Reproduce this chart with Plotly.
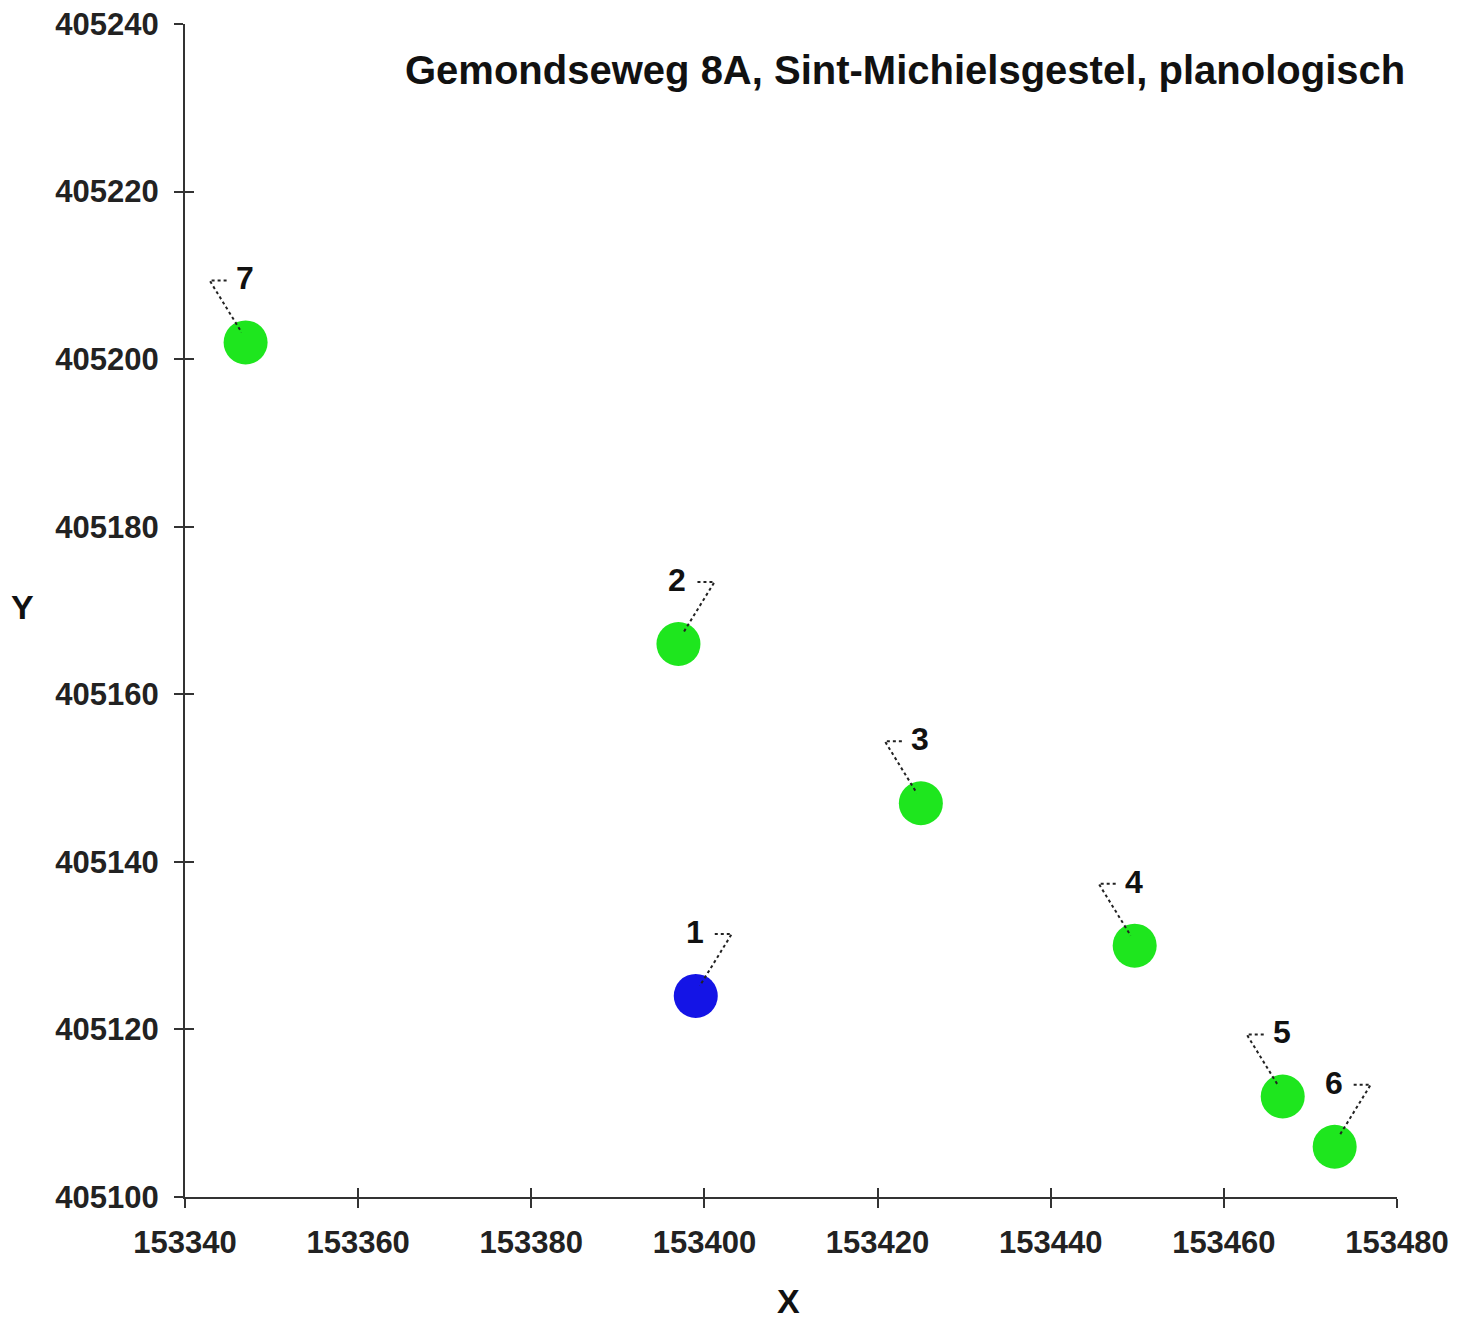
import plotly.graph_objects as go

labels = ["1", "2", "3", "4", "5", "6", "7"]
xs = [153399, 153397, 153425, 153449.7, 153466.8, 153472.8, 153347]
ys = [405124, 405166, 405147, 405130, 405112, 405106, 405202]
colors = ["#1414e6", "#1ee61e", "#1ee61e", "#1ee61e", "#1ee61e", "#1ee61e", "#1ee61e"]
# leader side: +1 = horizontal stub to right of label, -1 = to left
sides = [1, 1, -1, -1, -1, 1, -1]

title = "Gemondseweg 8A, Sint-Michielsgestel, planologisch"
x_ticks = [153340, 153360, 153380, 153400, 153420, 153440, 153460, 153480]
y_ticks = [405100, 405120, 405140, 405160, 405180, 405200, 405220, 405240]

FONT = "Liberation Sans, Arial, sans-serif"
AX = "#333333"

fig = go.Figure()
fig.add_trace(go.Scatter(
    x=xs, y=ys, mode="markers",
    marker=dict(size=44, color=colors, line=dict(width=0)),
    hoverinfo="skip", showlegend=False,
))
# invisible trace for overlay axes (inward ticks)
fig.add_trace(go.Scatter(x=[x_ticks[0]], y=[y_ticks[0]], xaxis="x2", yaxis="y2",
                         mode="markers", marker=dict(opacity=0), showlegend=False, hoverinfo="skip"))

shapes = []
annotations = []
for lab, x, y, s in zip(labels, xs, ys, sides):
    annotations.append(dict(x=x, y=y, xref="x", yref="y", text="<b>%s</b>" % lab,
                            showarrow=False, yshift=64, xshift=-1,
                            font=dict(family=FONT, size=32, color="#111111")))
    path = "M %d,%d L %d,%d L %d,%d" % (s * 19, 62, s * 36, 62, s * 4, 10)
    shapes.append(dict(type="path", xref="x", yref="y", xsizemode="pixel", ysizemode="pixel",
                       xanchor=x, yanchor=y, path=path,
                       line=dict(color="#222222", width=2, dash="dot"), layer="above"))

annotations.append(dict(x=1.0, y=0.9608, xref="paper", yref="paper", xanchor="right",
                        yanchor="middle", text="<b>%s</b>" % title, showarrow=False,
                        xshift=10,
                        font=dict(family=FONT, size=40, color="#111111")))
annotations.append(dict(x=0, y=0.5, xref="paper", yref="paper", xanchor="center",
                        yanchor="middle", text="<b>Y</b>", showarrow=False, xshift=-163, yshift=4,
                        font=dict(family=FONT, size=34, color="#111111")))
annotations.append(dict(x=0.5, y=0, xref="paper", yref="paper", xanchor="center",
                        yanchor="middle", text="<b>X</b>", showarrow=False, xshift=-3, yshift=-104,
                        font=dict(family=FONT, size=34, color="#111111")))

common_axis = dict(showgrid=False, zeroline=False, automargin=False)
tickfont = dict(family=FONT, size=31, color="#222222", weight="bold")
fig.update_layout(
    width=1464, height=1315,
    margin=dict(l=177, r=75, t=16, b=126),
    paper_bgcolor="white", plot_bgcolor="white",
    shapes=shapes, annotations=annotations,
    xaxis=dict(range=[x_ticks[0], x_ticks[-1]], tickvals=x_ticks, ticktext=[str(v) for v in x_ticks],
               ticks="outside", ticklen=9, tickwidth=2, tickcolor=AX, ticklabelstandoff=8,
               ticklabeloverflow="allow",
               showline=True, linecolor=AX, linewidth=2,
               tickfont=tickfont, **common_axis),
    yaxis=dict(range=[y_ticks[0], y_ticks[-1]], tickvals=y_ticks, ticktext=[str(v) for v in y_ticks],
               ticks="outside", ticklen=9, tickwidth=2, tickcolor=AX, ticklabelstandoff=9,
               ticklabeloverflow="allow",
               showline=True, linecolor=AX, linewidth=2,
               tickfont=tickfont, **common_axis),
    xaxis2=dict(range=[x_ticks[0], x_ticks[-1]], tickvals=x_ticks, overlaying="x", anchor="y2",
                ticks="inside", ticklen=9, tickwidth=2, tickcolor=AX, showticklabels=False,
                showline=False, **common_axis),
    yaxis2=dict(range=[y_ticks[0], y_ticks[-1]], tickvals=y_ticks, overlaying="y", anchor="x2",
                ticks="inside", ticklen=9, tickwidth=2, tickcolor=AX, showticklabels=False,
                showline=False, **common_axis),
)
fig.write_html("out.html")
